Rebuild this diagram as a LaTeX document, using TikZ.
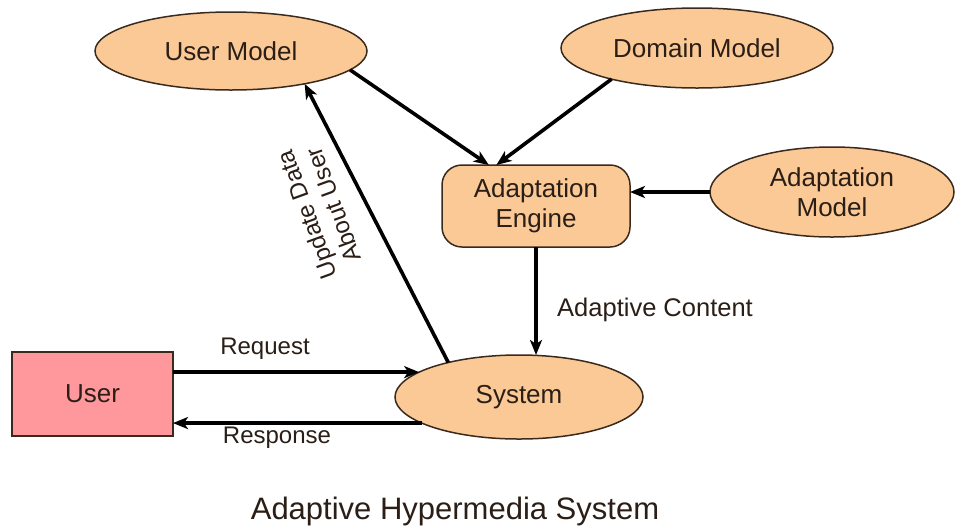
\documentclass[tikz,border=0pt]{standalone}
\usepackage{fontspec}
\setmainfont{Liberation Sans}
\usetikzlibrary{shapes.geometric,arrows.meta}

\definecolor{peach}{HTML}{FAC996}
\definecolor{rosy}{HTML}{FF989D}
\definecolor{edge}{HTML}{3A2A1E}
\definecolor{ink}{HTML}{2A1E16}

\tikzset{
  model/.style={ellipse, draw=edge, line width=1.5pt, fill=peach, inner sep=0pt,
    outer sep=0pt, align=center, text=ink, font=\fontsize{26}{30}\selectfont},
  engine/.style={rectangle, rounded corners=20pt, draw=edge, line width=1.5pt,
    fill=peach, inner sep=0pt, outer sep=0pt, align=center, text=ink,
    minimum width=188pt, minimum height=82pt, font=\fontsize{26}{30}\selectfont},
  person/.style={rectangle, draw=edge, line width=1.3pt, fill=rosy, inner sep=0pt,
    outer sep=0pt, text=ink, minimum width=161pt, minimum height=84pt,
    font=\fontsize{26}{30}\selectfont},
  flow/.style={line width=3.6pt, draw=black,
    -{Stealth[length=15pt,width=12pt,inset=4pt]}},
  tag/.style={text=ink, align=center, inner sep=0pt, font=\fontsize{24}{28}\selectfont},
}

\begin{document}
\begin{tikzpicture}[x=1pt, y=-1pt]
\useasboundingbox (0,0) rectangle (955,531);

% models and components
\node[model, minimum width=272pt, minimum height=78pt] (um) at (231,51) {User Model};
\node[model, minimum width=272pt, minimum height=80pt] (dm) at (697,48) {Domain Model};
\node[model, minimum width=244pt, minimum height=90pt] (am) at (832,192) {Adaptation\\Model};
\node[engine] (ae) at (536,206) {Adaptation\\Engine};
\node[model, minimum width=248pt, minimum height=84pt] (sys) at (519,397) {System};
\node[person] (user) at (92.5,394) {User};

% connectors
\draw[flow] (um.351) -- (ae.139.5);
\draw[flow] (dm.200) -- (ae.134);
\draw[flow] (am.west) -- (am.west -| ae.east);
\draw[flow] (ae.south) -- (ae.south |- sys.north);
\draw[flow] (sys.154) -- (um.336);
\draw[flow] (sys.166 -| user.east) -- (sys.166);
\draw[flow] (sys.195) -- (sys.195 -| user.east);

% connector labels
\node[tag] (lreq) at (265,349) {Request};
\node[tag] (lresp) at (277,438) {Response};
\node[tag, anchor=west, font=\fontsize{25.5}{30}\selectfont] (lcont) at (557,310) {Adaptive Content};
\node[tag, rotate=110] (lupd) at (320,210) {Update Data\\About User};

% caption
\node[tag, font=\fontsize{31}{36}\selectfont] (title) at (455,511) {Adaptive Hypermedia System};
\end{tikzpicture}
\end{document}
